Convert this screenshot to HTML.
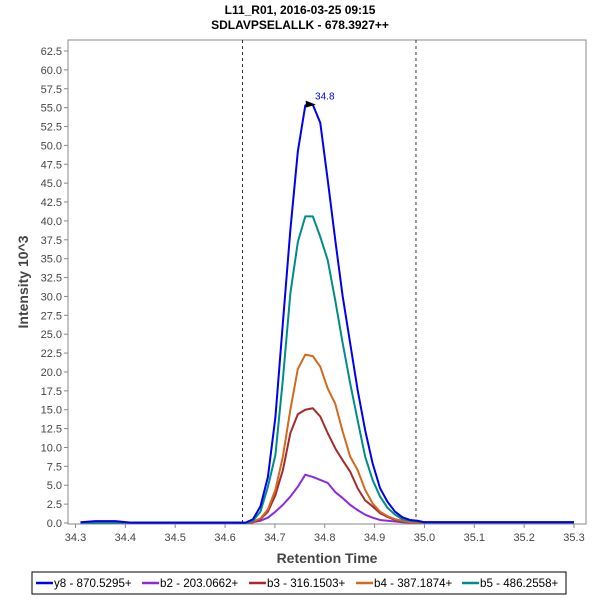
<!DOCTYPE html>
<html><head><meta charset="utf-8"><style>
body{margin:0;background:#fff;font-family:"Liberation Sans",sans-serif}
svg text{font-family:"Liberation Sans",sans-serif}
</style></head><body>
<svg id="c" width="600" height="600">
<text x="300" y="14" text-anchor="middle" font-size="12" font-weight="bold" fill="#000">L11_R01, 2016-03-25 09:15</text>
<text x="300" y="29" text-anchor="middle" font-size="12" font-weight="bold" fill="#000">SDLAVPSELALLK - 678.3927++</text>
<text transform="translate(28,282) rotate(-90)" text-anchor="middle" font-size="14" font-weight="bold" fill="#444">Intensity 10^3</text>
<text x="327" y="563" text-anchor="middle" font-size="14" font-weight="bold" fill="#444">Retention Time</text>
<g id="axes"></g><g id="series"></g>
<rect x="32" y="572" width="534" height="22" fill="#fff" stroke="#000"/>
<g id="legend"></g>
</svg>
<script>
const times=[34.641,34.656,34.671,34.686,34.701,34.716,34.731,34.746,34.761,34.776,34.791,34.806,34.821,34.836,34.851,34.866,34.881,34.896,34.911,34.926,34.941,34.956,34.971,34.986];
const y8=[0.05,0.5,2.2,6.1,14,26.5,38.8,49.2,55.3,55.4,53,45.4,37.5,30,23.8,17.6,12.3,7.9,4.6,2.8,1.5,0.75,0.4,0.3];
const b2=[0,0.1,0.3,0.7,1.5,2.4,3.5,4.8,6.4,6.1,5.7,5.3,4.1,3.3,2.4,1.7,1.1,0.7,0.4,0.3,0.2,0.1,0.05,0];
const b3=[0,0.1,0.5,1.5,3.7,7,11.9,14.4,15,15.2,14.1,11.9,9.9,8.3,6.8,4.6,3,2.2,1.3,0.8,0.4,0.2,0.1,0];
const b4=[0,0.2,0.6,1.8,4.4,8.8,15,20.4,22.3,22.1,20.7,17.8,15.8,12.1,8.8,7,4.4,2.6,1.5,0.9,0.5,0.3,0.1,0];
const b5=[0,0.3,1.5,4.8,9,19,30.4,37.2,40.6,40.6,37.9,34.8,29.5,23.8,18.5,13.6,8.8,5.7,3.5,2,1.1,0.5,0.3,0.2];
const xTicks=["34.3","34.4","34.5","34.6","34.7","34.8","34.9","35.0","35.1","35.2","35.3"];
const yTicks=["0.0","2.5","5.0","7.5","10.0","12.5","15.0","17.5","20.0","22.5","25.0","27.5","30.0","32.5","35.0","37.5","40.0","42.5","45.0","47.5","50.0","52.5","55.0","57.5","60.0","62.5"];
const names=["y8 - 870.5295+","b2 - 203.0662+","b3 - 316.1503+","b4 - 387.1874+","b5 - 486.2558+"];
const colors=["#0000ee","#8a2be2","#a52a2a","#d2691e","#008b8b"];
const boundaries=[34.635,34.983];
const X=t=>75.5+(t-34.3)*498.5, Y=v=>523-v*7.552;
const NS="http://www.w3.org/2000/svg";
function mk(tag,at,p){const e=document.createElementNS(NS,tag);for(const k in at)e.setAttribute(k,at[k]);p.appendChild(e);return e;}
const ax=document.getElementById('axes');
let r=mk('rect',{x:68,y:40,width:518,height:484,fill:'none',stroke:'#888'},ax);


xTicks.forEach(s=>{const x=X(parseFloat(s));
 const l=mk('line',{x1:x,x2:x,y1:524,y2:528,stroke:'#888'},ax);
 
 
 const t=mk('text',{x:x,y:541,'text-anchor':'middle','font-size':11,fill:'#444'},ax);t.textContent=s;
 
 });
yTicks.forEach(s=>{const y=Y(parseFloat(s));
 const l=mk('line',{x1:64,x2:68,y1:y,y2:y,stroke:'#888'},ax);
 
 
 const t=mk('text',{x:62,y:y+4,'text-anchor':'end','font-size':11,fill:'#444'},ax);t.textContent=s;
 
 });
boundaries.forEach(b=>{const l=mk('line',{x1:X(b),x2:X(b),y1:40,y2:524,stroke:'#333','stroke-dasharray':'3,3'},ax);
 
 });
const sg=document.getElementById('series');
const series=[y8,b2,b3,b4,b5];
const order=[1,2,3,4,0];
order.forEach(i=>{const v=series[i];
 let pts=[[34.31,i==0?0.1:0.05],[34.34,i==0?0.25:0.05],[34.38,i==0?0.25:0.05],[34.41,0.05],[34.62,0.05]];
 times.forEach((t,k)=>pts.push([t,v[k]]));
 pts.push([35.0,0.1],[35.3,0.1]);
 const p=mk('polyline',{points:pts.map(q=>X(q[0])+','+Y(q[1])).join(' '),fill:'none',stroke:colors[i],'stroke-width':2,'stroke-linejoin':'round'},sg);
 
 });
let k=y8.indexOf(Math.max(...y8));let px=X(times[k]),py=Y(y8[k]);
let tri=mk('polygon',{points:`${px-7},${py-4} ${px+3},${py} ${px-7},${py+3}`,fill:'#000'},sg);


let lab=mk('text',{x:px+12,y:py-5,'text-anchor':'middle','font-size':10,fill:'#0000ee'},sg);lab.textContent='34.8';


const lg=document.getElementById('legend');
const lx=[36,142,249,356,462];
names.forEach((n,i)=>{const g=mk('g',{},lg);
 
 
 mk('line',{x1:lx[i],x2:lx[i]+17,y1:583,y2:583,stroke:colors[i],'stroke-width':2.5},g);
 const t=mk('text',{x:lx[i]+18,y:587,'font-size':11.6,fill:'#000'},g);t.textContent=n;});
</script>
</body></html>
